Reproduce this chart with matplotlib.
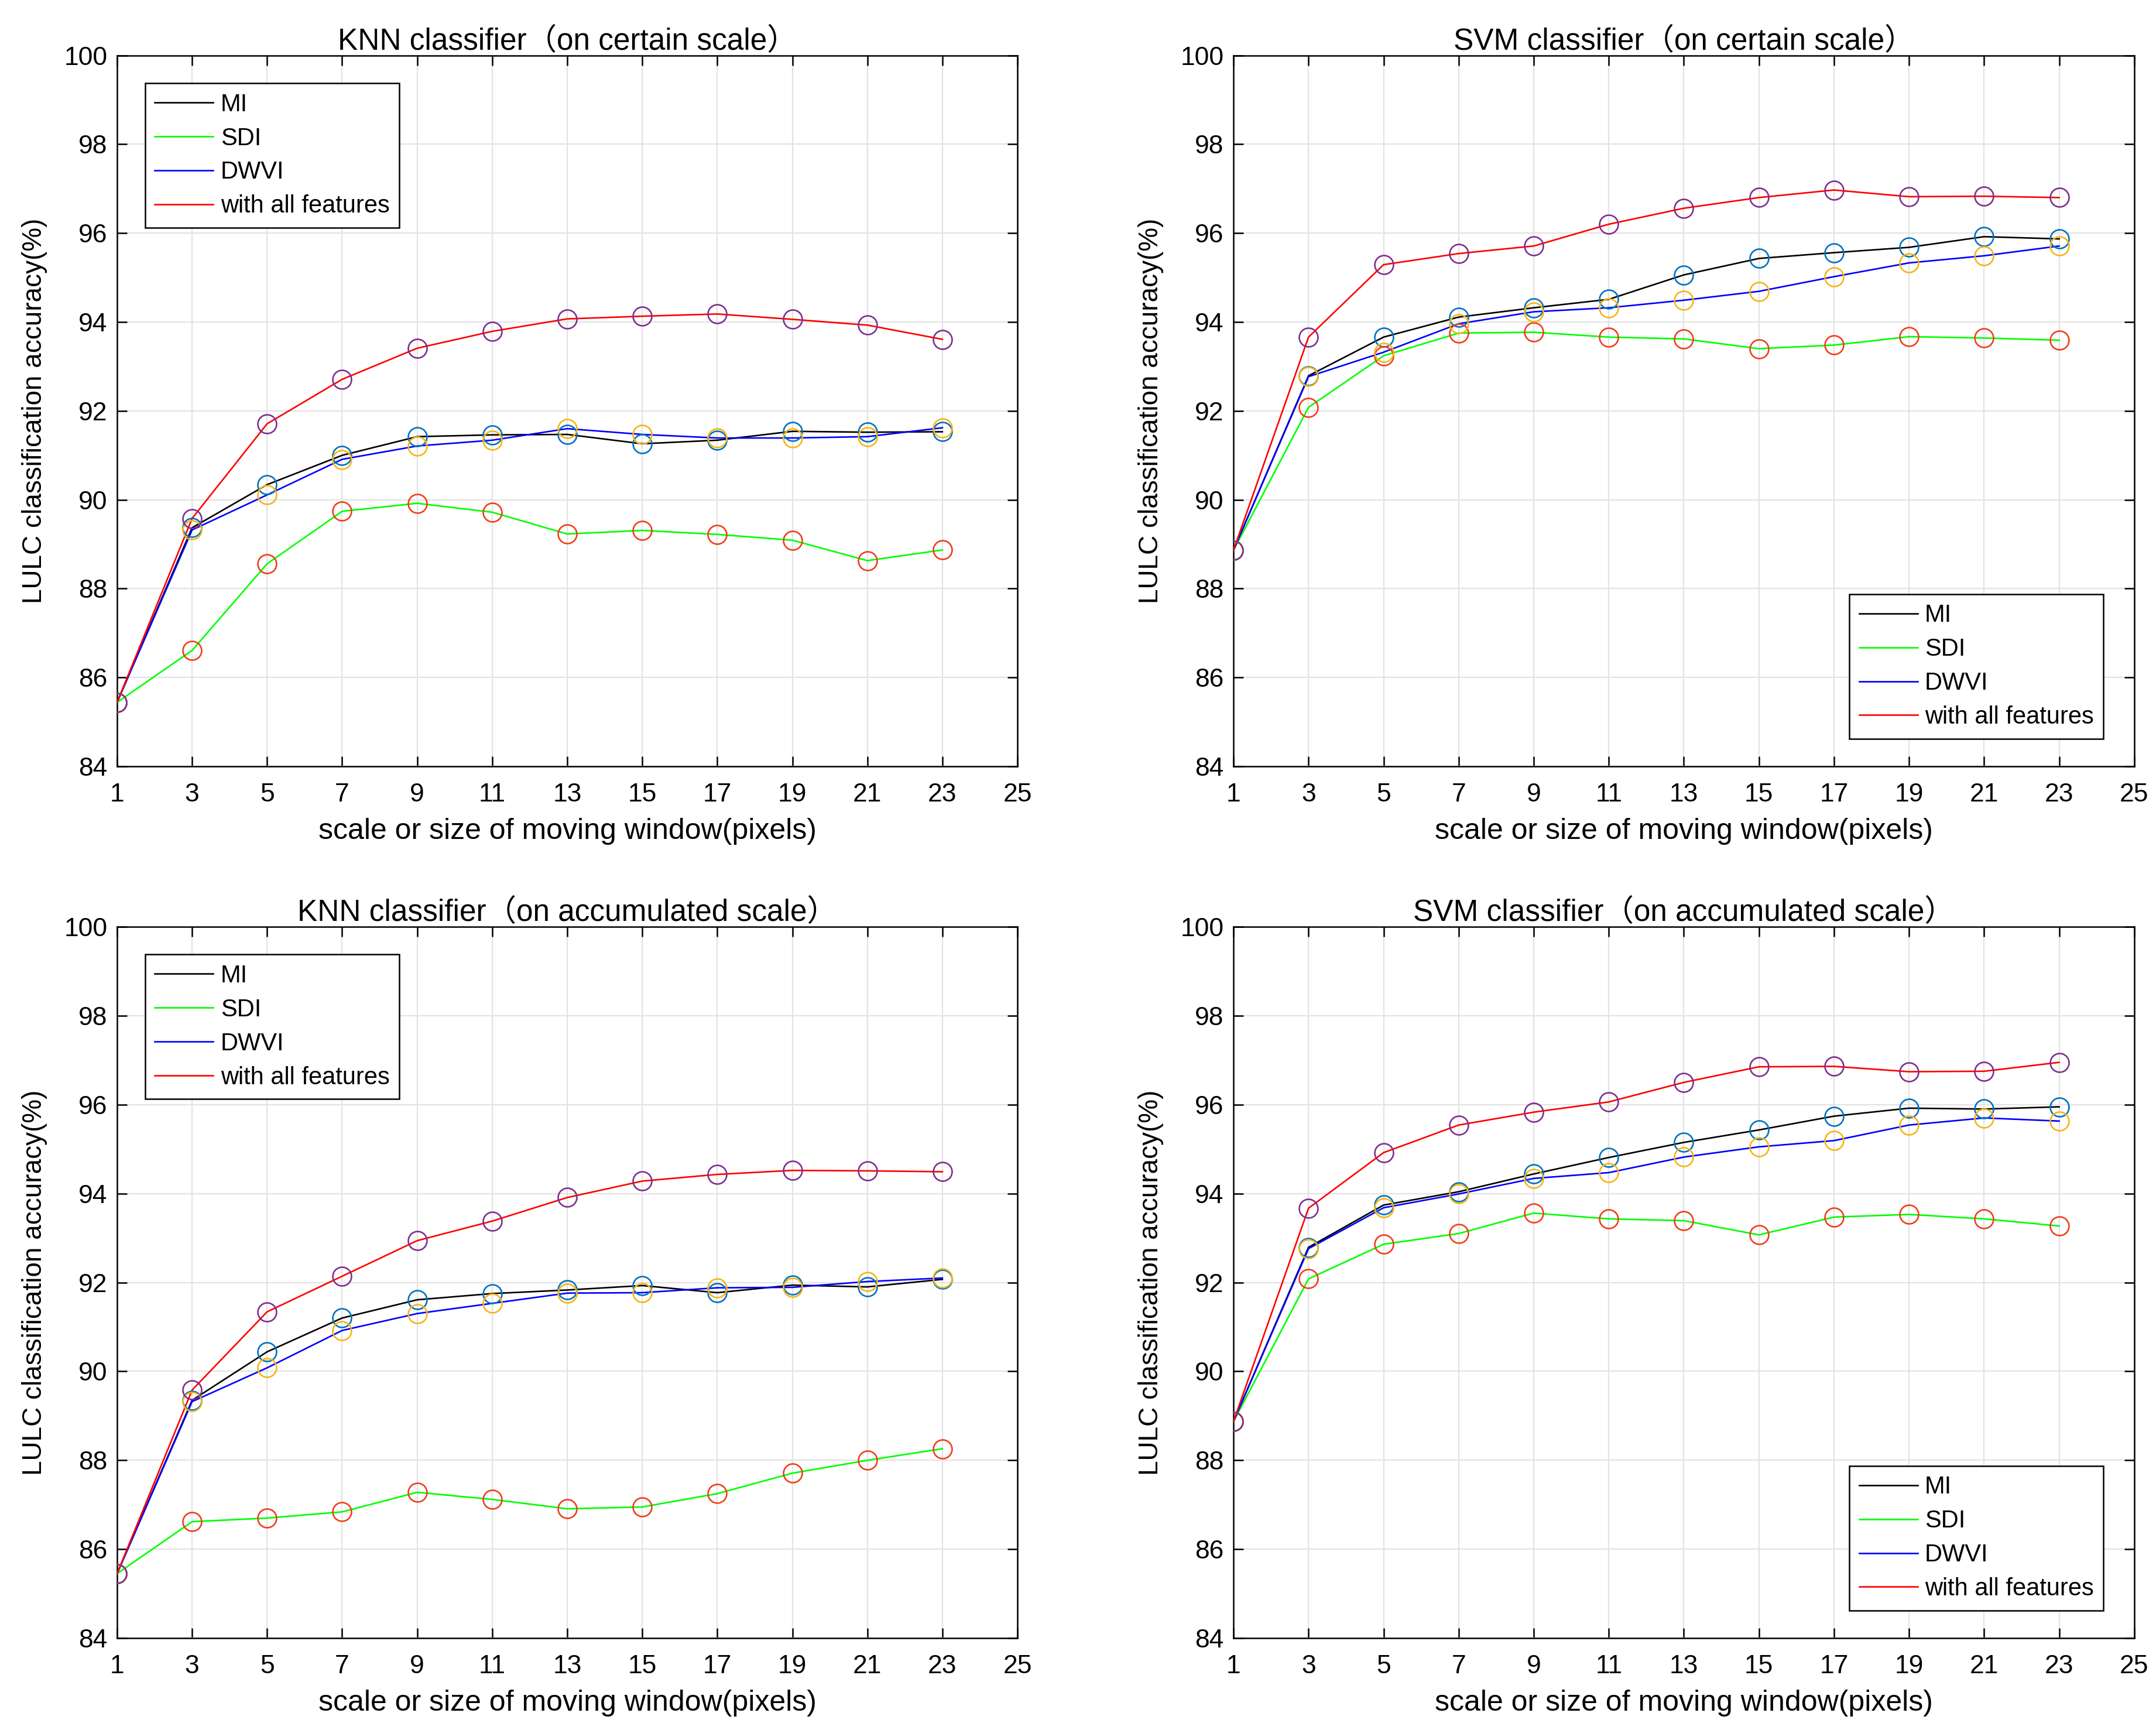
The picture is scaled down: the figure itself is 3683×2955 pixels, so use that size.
import matplotlib
matplotlib.use('Agg')
import matplotlib.pyplot as plt

plt.rcParams['font.family'] = ['Liberation Sans', 'Noto Sans CJK SC']

scales = [1, 3, 5, 7, 9, 11, 13, 15, 17, 19, 21, 23]
series_names = ['MI', 'SDI', 'DWVI', 'with all features']

# KNN, on certain scale
knn_cert_mi = [85.44, 89.37, 90.34, 91.00, 91.42, 91.46, 91.47, 91.26, 91.34, 91.54, 91.52, 91.53]
knn_cert_sdi = [85.44, 86.61, 88.56, 89.74, 89.92, 89.72, 89.23, 89.31, 89.22, 89.09, 88.63, 88.87]
knn_cert_dwvi = [85.44, 89.32, 90.11, 90.91, 91.21, 91.34, 91.60, 91.47, 91.39, 91.39, 91.42, 91.62]
knn_cert_all = [85.44, 89.58, 91.71, 92.71, 93.41, 93.79, 94.07, 94.13, 94.18, 94.06, 93.93, 93.61]

# SVM, on certain scale
svm_cert_mi = [88.86, 92.79, 93.66, 94.11, 94.32, 94.51, 95.06, 95.43, 95.56, 95.68, 95.92, 95.87]
svm_cert_sdi = [88.86, 92.08, 93.24, 93.75, 93.77, 93.66, 93.62, 93.40, 93.48, 93.67, 93.64, 93.59]
svm_cert_dwvi = [88.86, 92.77, 93.32, 93.96, 94.23, 94.32, 94.49, 94.69, 95.02, 95.33, 95.49, 95.71]
svm_cert_all = [88.86, 93.66, 95.29, 95.54, 95.71, 96.20, 96.56, 96.80, 96.97, 96.82, 96.83, 96.80]

# KNN, on accumulated scale
knn_acc_mi = [85.45, 89.35, 90.44, 91.20, 91.61, 91.75, 91.83, 91.93, 91.77, 91.94, 91.90, 92.07]
knn_acc_sdi = [85.45, 86.62, 86.70, 86.84, 87.28, 87.12, 86.91, 86.95, 87.25, 87.71, 88.00, 88.26]
knn_acc_dwvi = [85.45, 89.32, 90.08, 90.92, 91.30, 91.53, 91.76, 91.77, 91.88, 91.89, 92.02, 92.10]
knn_acc_all = [85.45, 89.58, 91.34, 92.14, 92.94, 93.38, 93.91, 94.28, 94.43, 94.52, 94.51, 94.49]

# SVM, on accumulated scale
svm_acc_mi = [88.87, 92.79, 93.74, 94.04, 94.44, 94.81, 95.15, 95.43, 95.74, 95.92, 95.90, 95.95]
svm_acc_sdi = [88.87, 92.08, 92.86, 93.10, 93.56, 93.43, 93.39, 93.07, 93.47, 93.53, 93.43, 93.27]
svm_acc_dwvi = [88.87, 92.76, 93.68, 93.99, 94.34, 94.47, 94.82, 95.05, 95.19, 95.54, 95.70, 95.63]
svm_acc_all = [88.87, 93.67, 94.92, 95.54, 95.83, 96.06, 96.50, 96.85, 96.86, 96.74, 96.75, 96.95]

line_colors = ['black', '#00ff00', '#0000ff', '#ff0000']
marker_colors = ['#0072bd', '#f23d1a', '#f7b414', '#7e2f8e']

fig = plt.figure(figsize=(36.83, 29.55), dpi=100)

axes_pos = [
    [0.0543, 0.557, 0.4176, 0.411],
    [0.5721, 0.557, 0.4178, 0.411],
    [0.0543, 0.0531, 0.4176, 0.4112],
    [0.5721, 0.0531, 0.4178, 0.4112],
]
titles = ['KNN classifier（on certain scale）', 'SVM classifier（on certain scale）',
          'KNN classifier（on accumulated scale）', 'SVM classifier（on accumulated scale）']
panel_data = [
    [knn_cert_mi, knn_cert_sdi, knn_cert_dwvi, knn_cert_all],
    [svm_cert_mi, svm_cert_sdi, svm_cert_dwvi, svm_cert_all],
    [knn_acc_mi, knn_acc_sdi, knn_acc_dwvi, knn_acc_all],
    [svm_acc_mi, svm_acc_sdi, svm_acc_dwvi, svm_acc_all],
]
legend_left = [True, False, True, False]

for pos, title, data, left in zip(axes_pos, titles, panel_data, legend_left):
    ax = fig.add_axes(pos)
    for vals, name, c in zip(data, series_names, line_colors):
        ax.plot(scales, vals, color=c, lw=1.9, label=name, zorder=3)
    for vals, mc in zip(data, marker_colors):
        ax.plot(scales, vals, 'o', ms=23, mfc='none', mec=mc, mew=1.9, zorder=4)

    ax.set_xlim(1, 25)
    ax.set_ylim(84, 100)
    ax.set_xticks(range(1, 26, 2))
    ax.set_yticks(range(84, 101, 2))
    ax.grid(True, color='#e3e3e3', lw=1.6, zorder=0)
    ax.tick_params(direction='in', length=12, width=1.8, top=True, right=True,
                   labelsize=32)
    ax.tick_params(axis='x', pad=20)
    ax.tick_params(axis='y', pad=12)
    for sp in ax.spines.values():
        sp.set_linewidth(1.8)

    ax.set_title(title, fontsize=37, pad=7)
    ax.set_xlabel('scale or size of moving window(pixels)', fontsize=36, labelpad=14)
    ax.set_ylabel('LULC classification accuracy(%)', fontsize=33, labelpad=20)

    if left:
        loc, anchor = 'upper left', (0.031, 0.961)
    else:
        loc, anchor = 'lower right', (0.966, 0.039)
    leg = ax.legend(loc=loc, bbox_to_anchor=anchor, borderaxespad=0, fontsize=30,
                    handlelength=2.4, handletextpad=0.3, labelspacing=0.43,
                    borderpad=0.4, fancybox=False, framealpha=1, edgecolor='black')
    leg.get_frame().set_linewidth(1.8)
    leg.set_zorder(5)

fig.savefig('out.png', dpi=100)
